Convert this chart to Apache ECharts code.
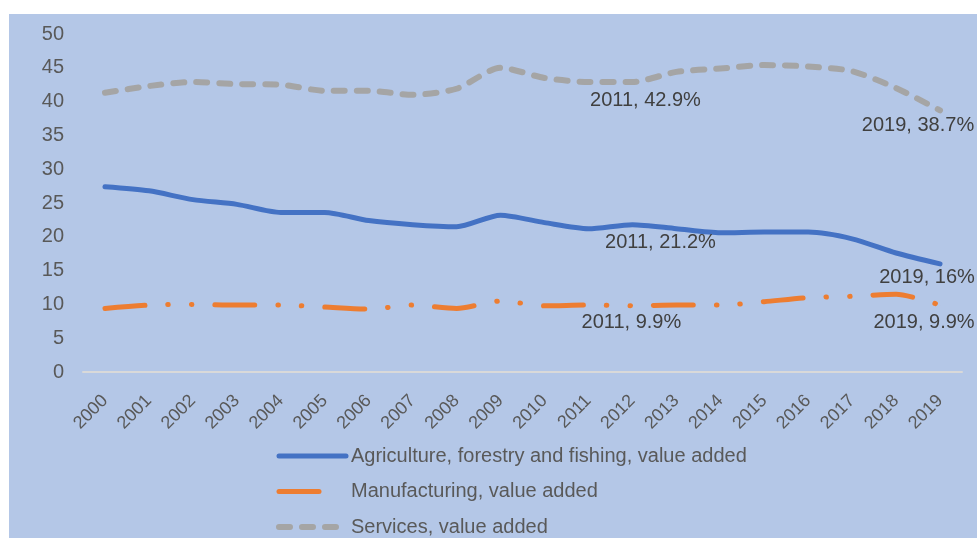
<!DOCTYPE html>
<html>
<head>
<meta charset="utf-8">
<script src="https://cdn.jsdelivr.net/npm/echarts@6/dist/echarts.min.js"></script>
<style>
  html, body { margin: 0; padding: 0; background: #ffffff; }
  #chart { width: 977px; height: 538px; }
</style>
</head>
<body>
<div id="chart"></div>
<script>
// Value added by sector, % of GDP
const years = ['2000','2001','2002','2003','2004','2005','2006','2007','2008','2009',
               '2010','2011','2012','2013','2014','2015','2016','2017','2018','2019'];
const agriculture = [27.4, 26.8, 25.5, 24.8, 23.6, 23.6, 22.4, 21.8, 21.5, 23.2,
                     22.1, 21.2, 21.8, 21.2, 20.6, 20.7, 20.7, 19.7, 17.6, 16];
const manufacturing = [9.4, 9.9, 10.0, 9.9, 9.9, 9.6, 9.3, 9.9, 9.4, 10.5,
                       9.8, 9.9, 9.8, 9.9, 9.9, 10.4, 11.0, 11.2, 11.5, 9.9];
const services = [41.3, 42.3, 42.9, 42.6, 42.5, 41.6, 41.6, 41.0, 41.9, 45.0,
                  43.5, 42.9, 42.9, 44.4, 44.9, 45.4, 45.2, 44.5, 42.0, 38.7];
const seriesNames = ['Agriculture, forestry and fishing, value added',
                     'Manufacturing, value added',
                     'Services, value added'];
const yTicks = [0, 5, 10, 15, 20, 25, 30, 35, 40, 45, 50];

const FONT = 'Liberation Sans';
const labelYears = ['2011', '2019'];

const styles = {
  agri: { color: '#4472c4', width: 5, cap: 'round', join: 'round', type: 'solid' },
  manu: { color: '#ed7d31', width: 5, cap: 'round', join: 'round', type: [40, 23, 0.5, 23, 0.5, 23] },
  serv: { color: '#a5a5a5', width: 6, cap: 'round', join: 'round', type: [11, 12] }
};

// attach a point label to the highlighted years; offsets keep labels clear of the lines
function withLabels(values, offsets) {
  return values.map((v, i) => {
    const k = labelYears.indexOf(years[i]);
    if (k < 0) return v;
    return {
      value: v,
      symbol: 'circle',
      symbolSize: 0.1,
      label: {
        show: true,
        position: 'inside',
        offset: offsets[k],
        formatter: '{b}, {c}%',
        color: '#404040',
        fontFamily: FONT,
        fontSize: 20
      }
    };
  });
}

const chart = echarts.init(document.getElementById('chart'), null, { renderer: 'canvas' });
chart.setOption({
  animation: false,
  backgroundColor: '#ffffff',
  graphic: [{
    type: 'rect', left: 9, top: 14, z: -10, silent: true,
    shape: { width: 968, height: 524 },
    style: { fill: '#b4c7e7' }
  }],
  grid: { left: 83, right: 15, top: 34, bottom: 166 },
  legend: {
    orient: 'vertical',
    left: 276,
    top: 446,
    padding: 0,
    itemWidth: 67,
    itemHeight: 20,
    itemGap: 15.5,
    itemStyle: { opacity: 0 },
    textStyle: { color: '#595959', fontFamily: FONT, fontSize: 20 },
    data: [
      { name: seriesNames[0], lineStyle: { width: styles.agri.width } },
      { name: seriesNames[1], lineStyle: { width: styles.manu.width, type: [40, 60] } },
      { name: seriesNames[2], lineStyle: { width: styles.serv.width } }
    ]
  },
  xAxis: {
    type: 'category',
    data: years,
    boundaryGap: true,
    axisLine: { show: true, lineStyle: { color: '#d9d9d9', width: 2 } },
    axisTick: { show: false },
    axisLabel: {
      interval: 0, rotate: 45, margin: 26,
      color: '#595959', fontFamily: FONT, fontSize: 18
    },
    splitLine: { show: false }
  },
  yAxis: {
    type: 'value',
    min: yTicks[0],
    max: yTicks[yTicks.length - 1],
    interval: 5,
    axisLine: { show: false },
    axisTick: { show: false },
    splitLine: { show: false },
    axisLabel: { margin: 19, color: '#595959', fontFamily: FONT, fontSize: 20 }
  },
  series: [
    {
      name: seriesNames[0], type: 'line', smooth: 0.25, symbol: 'none',
      data: withLabels(agriculture, [[72, 14], [-13, 14]]),
      lineStyle: styles.agri,
      itemStyle: { color: styles.agri.color }
    },
    {
      name: seriesNames[1], type: 'line', smooth: 0.25, symbol: 'none',
      data: withLabels(manufacturing, [[43, 17], [-16, 17]]),
      lineStyle: styles.manu,
      itemStyle: { color: styles.manu.color }
    },
    {
      name: seriesNames[2], type: 'line', smooth: 0.25, symbol: 'none',
      data: withLabels(services, [[57, 18], [-22, 15]]),
      lineStyle: styles.serv,
      itemStyle: { color: styles.serv.color }
    }
  ]
});
</script>
</body>
</html>
